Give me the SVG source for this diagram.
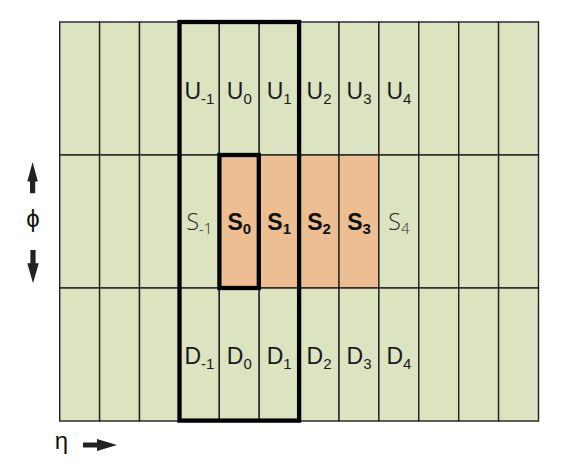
<svg xmlns="http://www.w3.org/2000/svg" width="569" height="470" viewBox="0 0 569 470">
<style>
.g{fill:#dce3c0;stroke:#222;stroke-width:1.4}
.o{fill:#ecbe91;stroke:#222;stroke-width:1.4}
.lb{font-family:"Liberation Sans",Arial,sans-serif;font-size:23px;fill:#1a1a1a;text-anchor:middle}
.sb{font-family:"Liberation Sans",Arial,sans-serif;font-size:23px;font-weight:bold;fill:#111;text-anchor:middle}
.st{font-family:"Open Sans","DejaVu Sans",sans-serif;font-weight:300;font-size:23px;fill:#262626;text-anchor:middle}
.sub{font-size:15px}
.box{fill:none;stroke:#000;stroke-width:4.3}
.ax{fill:#222}
.gk{font-family:"Liberation Sans","DejaVu Sans",sans-serif;font-size:24px;fill:#111;text-anchor:middle}
</style>
<g id="grid">
<g id="row-U">
<rect class="g" x="59.7" y="22" width="39.9" height="133"/>
<rect class="g" x="99.6" y="22" width="39.9" height="133"/>
<rect class="g" x="139.5" y="22" width="39.9" height="133"/>
<rect class="g" x="179.4" y="22" width="39.9" height="133"/>
<rect class="g" x="219.3" y="22" width="39.9" height="133"/>
<rect class="g" x="259.2" y="22" width="39.9" height="133"/>
<rect class="g" x="299.1" y="22" width="39.9" height="133"/>
<rect class="g" x="339" y="22" width="39.9" height="133"/>
<rect class="g" x="378.9" y="22" width="39.9" height="133"/>
<rect class="g" x="418.8" y="22" width="39.9" height="133"/>
<rect class="g" x="458.7" y="22" width="39.9" height="133"/>
<rect class="g" x="498.6" y="22" width="39.9" height="133"/>
</g>
<g id="row-S">
<rect class="g" x="59.7" y="155" width="39.9" height="133"/>
<rect class="g" x="99.6" y="155" width="39.9" height="133"/>
<rect class="g" x="139.5" y="155" width="39.9" height="133"/>
<rect class="g" x="179.4" y="155" width="39.9" height="133"/>
<rect class="o" x="219.3" y="155" width="39.9" height="133"/>
<rect class="o" x="259.2" y="155" width="39.9" height="133"/>
<rect class="o" x="299.1" y="155" width="39.9" height="133"/>
<rect class="o" x="339" y="155" width="39.9" height="133"/>
<rect class="g" x="378.9" y="155" width="39.9" height="133"/>
<rect class="g" x="418.8" y="155" width="39.9" height="133"/>
<rect class="g" x="458.7" y="155" width="39.9" height="133"/>
<rect class="g" x="498.6" y="155" width="39.9" height="133"/>
</g>
<g id="row-D">
<rect class="g" x="59.7" y="288" width="39.9" height="133"/>
<rect class="g" x="99.6" y="288" width="39.9" height="133"/>
<rect class="g" x="139.5" y="288" width="39.9" height="133"/>
<rect class="g" x="179.4" y="288" width="39.9" height="133"/>
<rect class="g" x="219.3" y="288" width="39.9" height="133"/>
<rect class="g" x="259.2" y="288" width="39.9" height="133"/>
<rect class="g" x="299.1" y="288" width="39.9" height="133"/>
<rect class="g" x="339" y="288" width="39.9" height="133"/>
<rect class="g" x="378.9" y="288" width="39.9" height="133"/>
<rect class="g" x="418.8" y="288" width="39.9" height="133"/>
<rect class="g" x="458.7" y="288" width="39.9" height="133"/>
<rect class="g" x="498.6" y="288" width="39.9" height="133"/>
</g>
</g>
<g id="labels-U">
<text class="lb" x="199.4" y="99">U<tspan class="sub" dy="5">-1</tspan></text>
<text class="lb" x="239.3" y="99">U<tspan class="sub" dy="5">0</tspan></text>
<text class="lb" x="279.2" y="99">U<tspan class="sub" dy="5">1</tspan></text>
<text class="lb" x="319.1" y="99">U<tspan class="sub" dy="5">2</tspan></text>
<text class="lb" x="359" y="99">U<tspan class="sub" dy="5">3</tspan></text>
<text class="lb" x="398.9" y="99">U<tspan class="sub" dy="5">4</tspan></text>
</g>
<g id="labels-S">
<text class="st" x="199.4" y="230">S<tspan class="sub" dy="4">-1</tspan></text>
<text class="sb" x="239.3" y="230">S<tspan class="sub" dy="4">0</tspan></text>
<text class="sb" x="279.2" y="230">S<tspan class="sub" dy="4">1</tspan></text>
<text class="sb" x="319.1" y="230">S<tspan class="sub" dy="4">2</tspan></text>
<text class="sb" x="359" y="230">S<tspan class="sub" dy="4">3</tspan></text>
<text class="st" x="398.9" y="230">S<tspan class="sub" dy="4">4</tspan></text>
</g>
<g id="labels-D">
<text class="lb" x="199.4" y="364">D<tspan class="sub" dy="5">-1</tspan></text>
<text class="lb" x="239.3" y="364">D<tspan class="sub" dy="5">0</tspan></text>
<text class="lb" x="279.2" y="364">D<tspan class="sub" dy="5">1</tspan></text>
<text class="lb" x="319.1" y="364">D<tspan class="sub" dy="5">2</tspan></text>
<text class="lb" x="359" y="364">D<tspan class="sub" dy="5">3</tspan></text>
<text class="lb" x="398.9" y="364">D<tspan class="sub" dy="5">4</tspan></text>
</g>
<g id="windows">
<rect id="outer-window" class="box" x="179.5" y="22" width="119.6" height="398.6"/>
<rect id="seed-window" class="box" x="219.4" y="155" width="39.4" height="133"/>
</g>
<g id="axes">
<path class="ax" d="M32.6,162 L37.9,181.5 L35.2,181.5 L35.2,193.3 L30,193.3 L30,181.5 L27.3,181.5 Z"/>
<text class="gk" x="33" y="227">ϕ</text>
<path class="ax" d="M33,283.3 L38.8,263.3 L35.6,263.3 L35.6,250 L30.4,250 L30.4,263.3 L27.3,263.3 Z"/>
<text class="gk" x="61.5" y="449">η</text>
<path class="ax" d="M117,445 L97,439 L97,442.6 L83,442.6 L83,447.4 L97,447.4 L97,451 Z"/>
</g>
</svg>
